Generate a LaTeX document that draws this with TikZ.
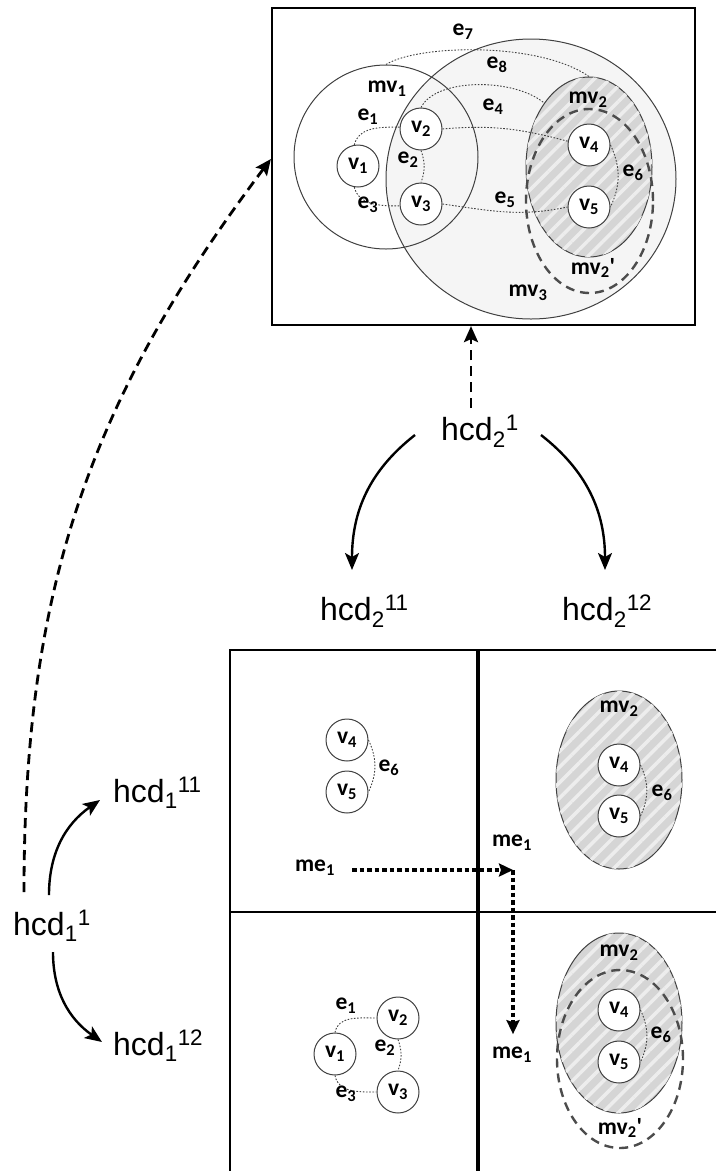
\documentclass[tikz,border=0pt]{standalone}
\usepackage{fontspec}
\setmainfont{Liberation Sans}
\newfontfamily\labfont{Carlito}
\usetikzlibrary{shapes.geometric,arrows.meta,patterns.meta}

\begin{document}
\begin{tikzpicture}[x=1pt,y=1pt,
  hcd/.style={font=\fontsize{32}{36}\selectfont, inner sep=0pt, anchor=base west},
  lab/.style={font=\labfont\bfseries\fontsize{23.5}{26}\selectfont, inner sep=0pt},
  vtx/.style={circle, draw=black!75, line width=1pt, fill=white, minimum size=42pt, inner sep=0pt, font=\labfont\bfseries\fontsize{23.5}{26}\selectfont},
  edge/.style={draw=black!75, line width=0.9pt, dash pattern=on 1.6pt off 1.6pt},
  grp/.style={ellipse, draw=black!75, line width=1pt, inner sep=0pt},
  shadeA/.style={fill=gray!8},
  shadeB/.style={fill=gray!33, postaction={pattern={Lines[angle=45,distance=11pt,line width=3.5pt]}, pattern color=gray!14}},
  dgrp/.style={ellipse, draw=black!70, line width=2.4pt, dash pattern=on 9pt off 6pt, inner sep=0pt},
  solidarr/.style={line width=2.4pt, -{Stealth[length=17pt,width=14pt,inset=4pt]}},
  dasharr/.style={line width=2.8pt, dash pattern=on 10pt off 6pt, -{Stealth[length=16pt,width=14pt,inset=3pt]}},
  dotarr/.style={line width=3.2pt, dash pattern=on 4.5pt off 3pt, -{Stealth[length=14pt,width=13pt,inset=2pt]}},
  gridline/.style={line width=2.2pt},
]
\useasboundingbox (0,0) rectangle (716,-1171);

% ---------- top box ----------
\node[draw, line width=2.2pt, minimum width=423pt, minimum height=317pt, inner sep=0pt] (box) at (483.5,-166.5) {};
\node[grp, shadeA, minimum width=290pt, minimum height=280pt] (mv3) at (531,-179) {};
\node[grp, shadeB, minimum width=126pt, minimum height=180pt] (mv2) at (589,-167) {};
\node[circle, draw=black!75, line width=1pt, minimum size=184pt, inner sep=0pt] (mv1) at (386,-157) {};
\node[dgrp, minimum width=127pt, minimum height=184pt] (mv2p) at (589.5,-201) {};

\node[vtx] (v1) at (358,-166) {v\textsubscript{1}};
\node[vtx] (v2) at (421,-129) {v\textsubscript{2}};
\node[vtx] (v3) at (421,-204) {v\textsubscript{3}};
\node[vtx] (v4) at (589,-145) {v\textsubscript{4}};
\node[vtx] (v5) at (589,-207) {v\textsubscript{5}};

\draw[edge] (v1.100) to[out=75,in=180] (v2.175);
\draw[edge] (v2.south) to[bend left=20] (v3.north);
\draw[edge] (v1.260) to[out=-75,in=180] (v3.185);
\draw[edge] (v2.east) to[out=5,in=165] (v4.170);
\draw[edge] (v3.east) to[out=-8,in=192] (v5.west);
\draw[edge] (v4.east) to[bend left=25] (v5.east);
\draw[edge] (v2.north) .. controls +(15,30) and +(-30,25) .. (mv2.125);
\draw[edge] (mv1.north) .. controls +(32,20) and +(-50,35) .. (mv2.north);

\node[lab] (lmv1) at (387,-89) {mv\textsubscript{1}};
\node[lab] (lmv2) at (588,-100) {mv\textsubscript{2}};
\node[lab] (lmv2p) at (593,-268) {mv\textsubscript{2}'};
\node[lab] (lmv3) at (528,-293) {mv\textsubscript{3}};
\node[lab] (le7) at (463,-32) {e\textsubscript{7}};
\node[lab] (le8) at (497,-65) {e\textsubscript{8}};
\node[lab] (le4) at (493,-107) {e\textsubscript{4}};
\node[lab] (le1) at (368,-117) {e\textsubscript{1}};
\node[lab] (le2) at (408,-160) {e\textsubscript{2}};
\node[lab] (le3) at (368,-205) {e\textsubscript{3}};
\node[lab] (le5) at (505,-200) {e\textsubscript{5}};
\node[lab] (le6) at (633,-173) {e\textsubscript{6}};

% ---------- hcd labels ----------
\node[hcd] (h21) at (441,-440) {hcd\textsubscript{2}\textsuperscript{1}};
\node[hcd] (h211) at (320,-620) {hcd\textsubscript{2}\textsuperscript{11}};
\node[hcd] (h212) at (562,-620) {hcd\textsubscript{2}\textsuperscript{12}};
\node[hcd] (h11) at (13,-935) {hcd\textsubscript{1}\textsuperscript{1}};
\node[hcd] (h111) at (113,-802) {hcd\textsubscript{1}\textsuperscript{11}};
\node[hcd] (h112) at (113,-1055) {hcd\textsubscript{1}\textsuperscript{12}};

\coordinate (dtop) at ([shift={(30pt,32pt)}]h21.base west);
\draw[dasharr] (dtop) -- (dtop |- box.south);
\draw[solidarr] ([shift={(-26pt,5pt)}]h21.base west) to[out=218,in=90] ([shift={(32pt,50pt)}]h211.base west);
\draw[solidarr] ([shift={(100pt,5pt)}]h21.base west) to[out=-38,in=90] ([shift={(43pt,50pt)}]h212.base west);

\draw[dasharr] ([shift={(11pt,43pt)}]h11.base west) to[out=90,in=233] ([yshift=7.5pt]box.west);
\draw[solidarr] ([shift={(36pt,40pt)}]h11.base west) to[out=90,in=215] ([shift={(-13pt,2pt)}]h111.base west);
\draw[solidarr] ([shift={(40pt,-17pt)}]h11.base west) to[out=-90,in=145] ([shift={(-11pt,13pt)}]h112.base west);

% ---------- grid ----------
\draw[gridline] (716,-650) -- (230,-650) -- (230,-1171);
\draw[line width=3.2pt] (478,-650) -- (478,-1171);
\draw[gridline] (230,-912) -- (716,-912);

% top-left cell
\node[vtx] (a4) at (347,-740) {v\textsubscript{4}};
\node[vtx] (a5) at (347,-792) {v\textsubscript{5}};
\draw[edge] (a4.east) to[bend left=25] (a5.east);
\node[lab] (ae6) at (389,-768) {e\textsubscript{6}};

% top-right cell
\node[grp, shadeB, minimum width=126pt, minimum height=178pt] (bmv2) at (619,-780) {};
\node[lab] (bl) at (619,-709) {mv\textsubscript{2}};
\node[vtx] (b4) at (619,-765) {v\textsubscript{4}};
\node[vtx] (b5) at (619,-816) {v\textsubscript{5}};
\draw[edge] (b4.east) to[bend left=25] (b5.east);
\node[lab] (be6) at (662,-793) {e\textsubscript{6}};

% bottom-left cell
\node[vtx] (c1) at (335,-1054) {v\textsubscript{1}};
\node[vtx] (c2) at (398,-1018) {v\textsubscript{2}};
\node[vtx] (c3) at (398,-1092) {v\textsubscript{3}};
\draw[edge] (c1.north) to[out=80,in=180] (c2.west);
\draw[edge] (c2.south) to[bend left=20] (c3.north);
\draw[edge] (c1.south) to[out=-80,in=180] (c3.west);
\node[lab] (ce1) at (346,-1006) {e\textsubscript{1}};
\node[lab] (ce2) at (385,-1048) {e\textsubscript{2}};
\node[lab] (ce3) at (346,-1094) {e\textsubscript{3}};

% bottom-right cell
\node[grp, shadeB, minimum width=126pt, minimum height=180pt] (dmv2) at (619,-1023) {};
\node[dgrp, minimum width=126pt, minimum height=178pt] (dmv2p) at (620,-1059) {};
\node[lab] (dl) at (619,-953) {mv\textsubscript{2}};
\node[lab] (dlp) at (620,-1128) {mv\textsubscript{2}'};
\node[vtx] (d4) at (619,-1010) {v\textsubscript{4}};
\node[vtx] (d5) at (619,-1062) {v\textsubscript{5}};
\draw[edge] (d4.east) to[bend left=25] (d5.east);
\node[lab] (de6) at (661,-1035) {e\textsubscript{6}};

% me1 arrows
\node[lab] (me1a) at (315,-868) {me\textsubscript{1}};
\node[lab] (me1c) at (512,-843) {me\textsubscript{1}};
\node[lab] (me1b) at (512,-1055) {me\textsubscript{1}};
\coordinate (corner) at (513,-870);
\coordinate (tipb) at ([yshift=13pt]me1b.north);
\draw[dotarr] (me1a.east |- corner) ++(17pt,0) -- (corner);
\draw[dotarr] (corner) -- (corner |- tipb);
\end{tikzpicture}
\end{document}
